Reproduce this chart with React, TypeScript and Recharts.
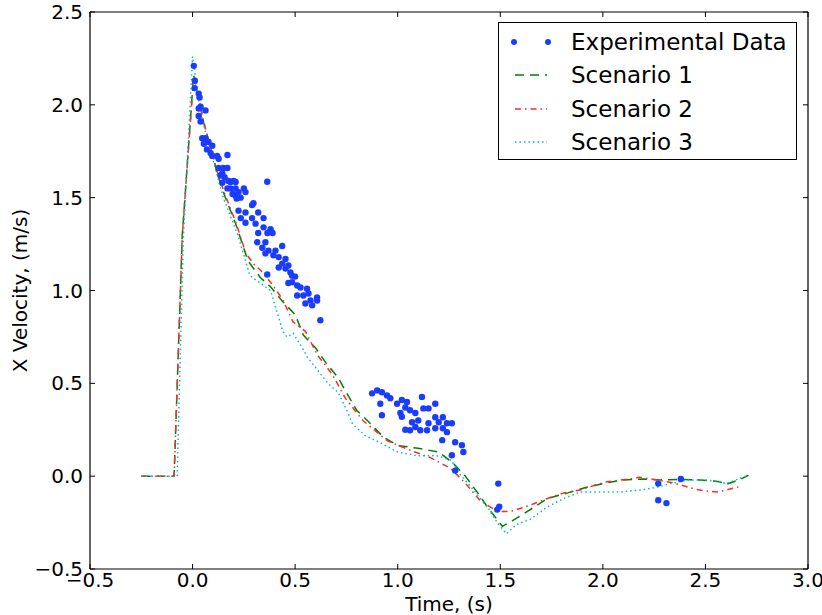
import React from 'react';
import {
  ComposedChart,
  Line,
  Scatter,
  XAxis,
  YAxis,
  Label,
} from 'recharts';

// ── Chart data ─────────────────────────────────────────────────────────────
const X_TICKS = [-0.5, 0, 0.5, 1, 1.5, 2, 2.5, 3];
const Y_TICKS = [-0.5, 0, 0.5, 1, 1.5, 2, 2.5];

const EXPERIMENTAL: [number, number][] = [
  [0.006, 2.21], [0.011, 2.13], [0.01, 2.09], [0.03, 2.06], [0.034, 2.04],
  [0.039, 1.99], [0.03, 1.98], [0.063, 1.97], [0.03, 1.94], [0.039, 1.91],
  [0.047, 1.82], [0.063, 1.82], [0.055, 1.79], [0.078, 1.8], [0.07, 1.76],
  [0.096, 1.78], [0.088, 1.74], [0.096, 1.725], [0.12, 1.725], [0.127, 1.71],
  [0.17, 1.73], [0.127, 1.66], [0.15, 1.66], [0.17, 1.66], [0.145, 1.63],
  [0.136, 1.62], [0.156, 1.61], [0.145, 1.58], [0.185, 1.585], [0.21, 1.585],
  [0.185, 1.55], [0.21, 1.55], [0.224, 1.53], [0.25, 1.55], [0.258, 1.53],
  [0.21, 1.51], [0.234, 1.5], [0.215, 1.495], [0.297, 1.47], [0.175, 1.59],
  [0.2, 1.59], [0.17, 1.55], [0.195, 1.52], [0.364, 1.586], [0.29, 1.46],
  [0.224, 1.43], [0.258, 1.42], [0.32, 1.42], [0.29, 1.39], [0.235, 1.39],
  [0.346, 1.39], [0.258, 1.365], [0.307, 1.36], [0.346, 1.34], [0.38, 1.33],
  [0.32, 1.31], [0.365, 1.31], [0.39, 1.31], [0.315, 1.26], [0.355, 1.26],
  [0.437, 1.24], [0.34, 1.23], [0.37, 1.215], [0.404, 1.215], [0.355, 1.2],
  [0.394, 1.19], [0.42, 1.18], [0.453, 1.17], [0.437, 1.145], [0.467, 1.135],
  [0.42, 1.124], [0.453, 1.118], [0.477, 1.097], [0.485, 1.08], [0.5, 1.075],
  [0.364, 1.086], [0.467, 1.04], [0.485, 1.045], [0.51, 1.027], [0.526, 1.016],
  [0.558, 1.01], [0.51, 0.973], [0.54, 0.973], [0.565, 0.984], [0.607, 0.962],
  [0.575, 0.946], [0.55, 0.93], [0.583, 0.92], [0.607, 0.946], [0.623, 0.84],
  [0.875, 0.446], [0.9, 0.462], [0.923, 0.452], [0.915, 0.39], [0.948, 0.435],
  [0.964, 0.42], [0.923, 0.328], [0.997, 0.39], [1.02, 0.41], [1.045, 0.4],
  [1.037, 0.37], [1.013, 0.34], [1.02, 0.32], [1.06, 0.355], [1.086, 0.34],
  [1.118, 0.427], [1.125, 0.365], [1.15, 0.365], [1.183, 0.39], [1.07, 0.29],
  [1.1, 0.3], [1.086, 0.265], [1.037, 0.25], [1.06, 0.247], [1.11, 0.247],
  [1.15, 0.285], [1.143, 0.247], [1.183, 0.317], [1.22, 0.317], [1.2, 0.29],
  [1.24, 0.285], [1.264, 0.285], [1.183, 0.258], [1.22, 0.258], [1.24, 0.237],
  [1.217, 0.194], [1.28, 0.183], [1.313, 0.167], [1.32, 0.13], [1.264, 0.113],
  [1.28, 0.03],
  [1.49, -0.04], [1.495, -0.165], [1.485, -0.18],
  [2.27, -0.04], [2.27, -0.13], [2.31, -0.145], [2.38, -0.015],
];

const SCENARIO_1: [number, number][] = [
  [-0.25, 0], [-0.09, 0], [-0.05, 1.3], [0.005, 2.16], [0.03, 2.04],
  [0.05, 1.92], [0.075, 1.82], [0.1, 1.72], [0.12, 1.63], [0.16, 1.5],
  [0.21, 1.36], [0.27, 1.16], [0.33, 1.07], [0.38, 1.02], [0.44, 0.94],
  [0.5, 0.87], [0.54, 0.76], [0.6, 0.69], [0.65, 0.61], [0.71, 0.53],
  [0.75, 0.45], [0.8, 0.355], [0.87, 0.28], [0.93, 0.21], [1.0, 0.165],
  [1.1, 0.15], [1.2, 0.13], [1.27, 0.07], [1.33, 0.0], [1.39, -0.09],
  [1.44, -0.17], [1.51, -0.27], [1.56, -0.24], [1.66, -0.17], [1.73, -0.12],
  [1.83, -0.09], [1.92, -0.06], [2.02, -0.035], [2.1, -0.02], [2.2, -0.015],
  [2.28, -0.02], [2.38, -0.017], [2.47, -0.02], [2.57, -0.03], [2.6, -0.045],
  [2.67, -0.017], [2.71, 0.005],
];

const SCENARIO_2: [number, number][] = [
  [-0.25, 0], [-0.09, 0], [-0.05, 1.3], [0.005, 2.15], [0.03, 2.04],
  [0.05, 1.93], [0.075, 1.82], [0.1, 1.72], [0.12, 1.64], [0.16, 1.51],
  [0.21, 1.37], [0.26, 1.2], [0.3, 1.14], [0.34, 1.1], [0.39, 1.03],
  [0.44, 0.95], [0.49, 0.83], [0.55, 0.78], [0.61, 0.65], [0.68, 0.55],
  [0.745, 0.42], [0.83, 0.3], [0.95, 0.19], [1.06, 0.14], [1.16, 0.1],
  [1.26, 0.04], [1.34, -0.05], [1.4, -0.13], [1.485, -0.19], [1.55, -0.19],
  [1.61, -0.17], [1.66, -0.15], [1.73, -0.12], [1.81, -0.09], [1.89, -0.075],
  [1.97, -0.045], [2.02, -0.03], [2.12, -0.016], [2.18, -0.006], [2.24, -0.016],
  [2.34, -0.035], [2.45, -0.07], [2.5, -0.08], [2.56, -0.085], [2.6, -0.075],
  [2.67, -0.055],
];

const SCENARIO_3: [number, number][] = [
  [-0.25, 0], [-0.075, 0], [-0.045, 1.28], [0.0, 2.26], [0.02, 2.1],
  [0.04, 1.96], [0.07, 1.82], [0.1, 1.7], [0.15, 1.5], [0.22, 1.3],
  [0.28, 1.08], [0.33, 1.04], [0.38, 1.0], [0.41, 0.89], [0.44, 0.78],
  [0.46, 0.75], [0.49, 0.77], [0.53, 0.7], [0.56, 0.64], [0.61, 0.57],
  [0.66, 0.5], [0.71, 0.45], [0.75, 0.36], [0.78, 0.28], [0.84, 0.22],
  [0.915, 0.18], [1.0, 0.13], [1.095, 0.11], [1.19, 0.11], [1.26, 0.086],
  [1.3, 0.016], [1.37, -0.075], [1.44, -0.17], [1.485, -0.25], [1.53, -0.31],
  [1.58, -0.26], [1.65, -0.23], [1.73, -0.165], [1.81, -0.12], [1.89, -0.085],
  [1.97, -0.085], [2.08, -0.085], [2.18, -0.075], [2.26, -0.06], [2.33, -0.04],
  [2.41, -0.02], [2.5, -0.02], [2.57, -0.03], [2.6, -0.04], [2.71, 0.005],
];

// ── Styling ────────────────────────────────────────────────────────────────
const FONT = '"DejaVu Sans", sans-serif';
const C = {
  exp: '#1a3cff',
  s1: '#008000',
  s2: '#ff2a2a',
  s3: '#00bfbf',
};

const toPts = (arr: [number, number][]) => arr.map(([t, v]) => ({ t, v }));

const tickStyle = { fill: '#000', fontSize: 20, fontFamily: FONT };
const fmt = (v: number) => v.toFixed(1).replace('-', '\u2212');
const noLabel = () => '';
const AXIS_LINE = { stroke: '#000', strokeWidth: 1.2 };

function Dot(props: any) {
  return <circle cx={props.cx} cy={props.cy} r={3.2} fill={C.exp} />;
}

function LegendBox() {
  const rows = [
    { label: 'Experimental Data', kind: 'dots' },
    { label: 'Scenario 1', kind: 's1' },
    { label: 'Scenario 2', kind: 's2' },
    { label: 'Scenario 3', kind: 's3' },
  ];
  return (
    <div
      style={{
        position: 'absolute',
        left: 498,
        top: 22,
        width: 299,
        height: 138,
        border: '1.5px solid #000',
        background: '#fff',
        boxSizing: 'border-box',
        fontFamily: FONT,
        fontSize: 23,
        whiteSpace: 'nowrap',
      }}
    >
      {rows.map((r, i) => (
        <div
          key={r.label}
          style={{
            position: 'absolute',
            left: 0,
            top: 4 + i * 33.3,
            height: 30,
            display: 'flex',
            alignItems: 'center',
          }}
        >
          <svg width={72} height={30} style={{ display: 'block' }}>
            {r.kind === 'dots' && (
              <>
                <circle cx={15} cy={15} r={3} fill={C.exp} />
                <circle cx={49} cy={15} r={3} fill={C.exp} />
              </>
            )}
            {r.kind === 's1' && (
              <line x1={16} x2={48} y1={15} y2={15} stroke={C.s1} strokeWidth={1.5} strokeDasharray="9 6" />
            )}
            {r.kind === 's2' && (
              <line x1={16} x2={48} y1={15} y2={15} stroke={C.s2} strokeWidth={1.5} strokeDasharray="6 4 1.5 4" />
            )}
            {r.kind === 's3' && (
              <line x1={16} x2={48} y1={15} y2={15} stroke={C.s3} strokeWidth={1.5} strokeDasharray="1.5 3" />
            )}
          </svg>
          <span style={{ lineHeight: '30px', color: '#000' }}>{r.label}</span>
        </div>
      ))}
    </div>
  );
}

export default function App() {
  return (
    <div style={{ position: 'absolute', left: 0, top: 0, width: 822, height: 615, background: '#fff' }}>
      <ComposedChart width={822} height={615} margin={{ top: 11, right: 13, bottom: 0, left: 0 }}>
        <XAxis
          dataKey="t"
          type="number"
          domain={[-0.5, 3]}
          ticks={X_TICKS}
          allowDataOverflow
          height={46}
          tickSize={-5}
          tickMargin={9}
          tick={tickStyle}
          tickFormatter={fmt}
          axisLine={AXIS_LINE}
          tickLine={{ stroke: '#000' }}
        >
          <Label
            value="Time, (s)"
            position="insideBottom"
            offset={4}
            style={{ fill: '#000', fontSize: 20, fontFamily: FONT }}
          />
        </XAxis>
        <XAxis
          xAxisId="top"
          orientation="top"
          dataKey="t"
          type="number"
          domain={[-0.5, 3]}
          ticks={X_TICKS}
          allowDataOverflow
          height={1}
          tickSize={-5}
          tickFormatter={noLabel}
          axisLine={AXIS_LINE}
          tickLine={{ stroke: '#000' }}
        />
        <YAxis
          type="number"
          domain={[-0.5, 2.5]}
          ticks={Y_TICKS}
          allowDataOverflow
          width={90}
          tickSize={-5}
          tickMargin={12}
          tick={tickStyle}
          tickFormatter={fmt}
          axisLine={AXIS_LINE}
          tickLine={{ stroke: '#000' }}
        >
          <Label
            value="X Velocity, (m/s)"
            angle={-90}
            position="insideLeft"
            offset={20}
            style={{ fill: '#000', fontSize: 20, fontFamily: FONT, textAnchor: 'middle' }}
          />
        </YAxis>
        <YAxis
          yAxisId="right"
          orientation="right"
          type="number"
          domain={[-0.5, 2.5]}
          ticks={Y_TICKS}
          allowDataOverflow
          width={1}
          tickSize={-5}
          tickFormatter={noLabel}
          axisLine={AXIS_LINE}
          tickLine={{ stroke: '#000' }}
        />

        <Scatter
          name="Experimental Data"
          data={toPts(EXPERIMENTAL)}
          dataKey="v"
          shape={Dot}
          isAnimationActive={false}
        />
        <Line
          name="Scenario 1"
          data={toPts(SCENARIO_1)}
          dataKey="v"
          type="linear"
          stroke={C.s1}
          strokeWidth={1.5}
          strokeDasharray="9 6"
          dot={false}
          activeDot={false}
          isAnimationActive={false}
        />
        <Line
          name="Scenario 2"
          data={toPts(SCENARIO_2)}
          dataKey="v"
          type="linear"
          stroke={C.s2}
          strokeWidth={1.5}
          strokeDasharray="6 4 1.5 4"
          dot={false}
          activeDot={false}
          isAnimationActive={false}
        />
        <Line
          name="Scenario 3"
          data={toPts(SCENARIO_3)}
          dataKey="v"
          type="linear"
          stroke={C.s3}
          strokeWidth={1.5}
          strokeDasharray="1.5 3"
          dot={false}
          activeDot={false}
          isAnimationActive={false}
        />
        {/* invisible series bound to the mirror axes so they render */}
        <Line
          data={toPts(SCENARIO_1)}
          dataKey="v"
          xAxisId="top"
          yAxisId="right"
          stroke="none"
          dot={false}
          activeDot={false}
          legendType="none"
          isAnimationActive={false}
        />
      </ComposedChart>
      <LegendBox />
    </div>
  );
}
